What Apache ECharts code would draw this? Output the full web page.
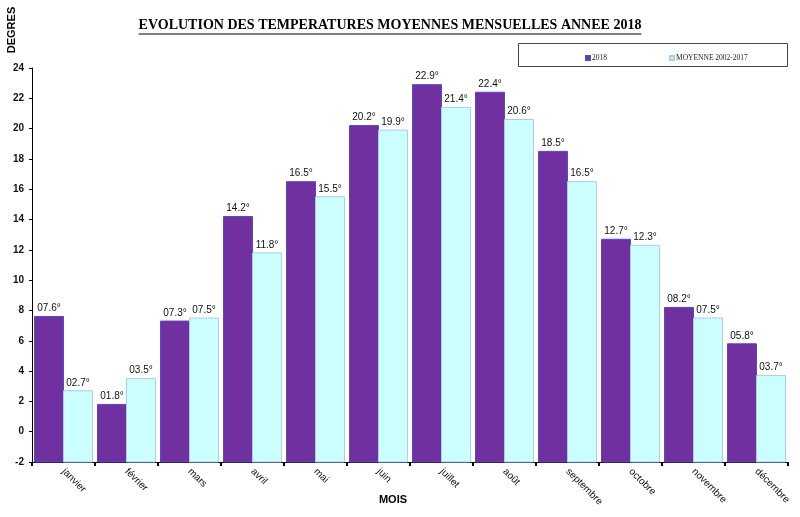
<!DOCTYPE html>
<html>
<head>
<meta charset="utf-8">
<script src="https://cdn.jsdelivr.net/npm/echarts@6/dist/echarts.min.js"></script>
<style>html,body{margin:0;padding:0;background:#fff;}#c{width:800px;height:517px;}</style>
</head>
<body>
<div id="c"></div>
<script>
var months = ['janvier','février','mars','avril','mai','juin','juillet','août','septembre','octobre','novembre','décembre'];
var temp2018 = [7.6, 1.8, 7.3, 14.2, 16.5, 20.2, 22.9, 22.4, 18.5, 12.7, 8.2, 5.8];
var moyenne = [2.7, 3.5, 7.5, 11.8, 15.5, 19.9, 21.4, 20.6, 16.5, 12.3, 7.5, 3.7];
var seriesNames = ['2018', 'MOYENNE 2002-2017'];
var yTicks = {min: -2, max: 24, interval: 2};

var titleText = 'EVOLUTION DES TEMPERATURES MOYENNES MENSUELLES ANNEE 2018';
var titleFont = 'bold 14px "Liberation Serif", "Times New Roman", serif';
var cv = document.createElement('canvas').getContext('2d');
cv.font = titleFont;
var titleW = cv.measureText(titleText).width;
var titleCx = 390, titleY = 25;

function fmt(v) {
  var s = v.toFixed(1);
  if (Math.abs(v) < 10) s = '0' + s;
  return s + '°';
}

var styles = [
  {color: '#7030A0', border: '#5A48C0'},
  {color: '#CCFFFF', border: '#A8CCF0'}
];

function makeRender(si) {
  return function (params, api) {
    var idx = api.value(0);
    var v = api.value(1);
    var base = api.coord([idx, yTicks.min]);
    var top = api.coord([idx, v]);
    var bw = api.size([1, 0])[0];
    var w = bw * 0.46;
    var x = si === 0 ? base[0] - w : base[0];
    return {
      type: 'group',
      children: [
        {type: 'rect', shape: {x: x, y: top[1], width: w, height: base[1] - top[1]},
         style: {fill: styles[si].color, stroke: styles[si].border, lineWidth: 1}},
        {type: 'text', x: x + w / 2, y: top[1] - 3,
         style: {text: fmt(v), fill: '#111', font: '10px Arial, "Liberation Sans", sans-serif',
                 textAlign: 'center', textVerticalAlign: 'bottom'}}
      ]
    };
  };
}

var chart = echarts.init(document.getElementById('c'));
chart.setOption({
  animation: false,
  grid: {left: 32, right: 12, top: 68, bottom: 55, containLabel: false, outerBoundsMode: 'none'},
  legend: {
    left: 580, top: 49, itemGap: 62, itemWidth: 4, itemHeight: 4, icon: 'rect',
    data: seriesNames,
    textStyle: {fontSize: 7.5, fontFamily: '"Liberation Serif", "Times New Roman", serif', color: '#222', padding: [0, 0, 0, -3]}
  },
  xAxis: {
    type: 'category', data: months, boundaryGap: true,
    axisLine: {onZero: false, lineStyle: {color: '#000', width: 1}},
    axisTick: {show: true, length: 4, lineStyle: {color: '#000', width: 2}},
    axisLabel: {rotate: -45, fontSize: 10, color: '#111', fontFamily: 'Arial, "Liberation Sans", sans-serif', margin: 8, interval: 0}
  },
  yAxis: {
    type: 'value', min: yTicks.min, max: yTicks.max, interval: yTicks.interval,
    splitLine: {show: false},
    axisLine: {show: true, lineStyle: {color: '#000', width: 1}},
    axisTick: {show: true, length: 3, lineStyle: {color: '#000'}},
    axisLabel: {fontSize: 10, fontWeight: 'bold', color: '#111', fontFamily: 'Arial, "Liberation Sans", sans-serif', margin: 8}
  },
  series: [0, 1].map(function (si) {
    var vals = si === 0 ? temp2018 : moyenne;
    return {
      type: 'custom', name: seriesNames[si],
      itemStyle: {color: styles[si].color, borderColor: styles[si].border, borderWidth: 1},
      data: vals.map(function (v, i) { return [i, v]; }),
      encode: {x: 0, y: 1},
      renderItem: makeRender(si)
    };
  }),
  graphic: [
    {type: 'text', x: titleCx, y: titleY, style: {text: titleText, font: titleFont, fill: '#000', textAlign: 'center', textVerticalAlign: 'middle'}},
    {type: 'line', shape: {x1: titleCx - titleW / 2, y1: titleY + 9, x2: titleCx + titleW / 2, y2: titleY + 9}, style: {stroke: '#000', lineWidth: 1}},
    {type: 'rect', shape: {x: 518.5, y: 43.5, width: 269, height: 23}, style: {fill: 'none', stroke: '#444', lineWidth: 1}, z: -1},
    {type: 'text', x: 12, y: 30, rotation: Math.PI / 2, style: {text: 'DEGRES', font: 'bold 11px Arial, "Liberation Sans", sans-serif', fill: '#000', textAlign: 'center', textVerticalAlign: 'middle'}},
    {type: 'text', x: 393, y: 500, style: {text: 'MOIS', font: 'bold 11px Arial, "Liberation Sans", sans-serif', fill: '#000', textAlign: 'center', textVerticalAlign: 'middle'}}
  ]
});
</script>
</body>
</html>
